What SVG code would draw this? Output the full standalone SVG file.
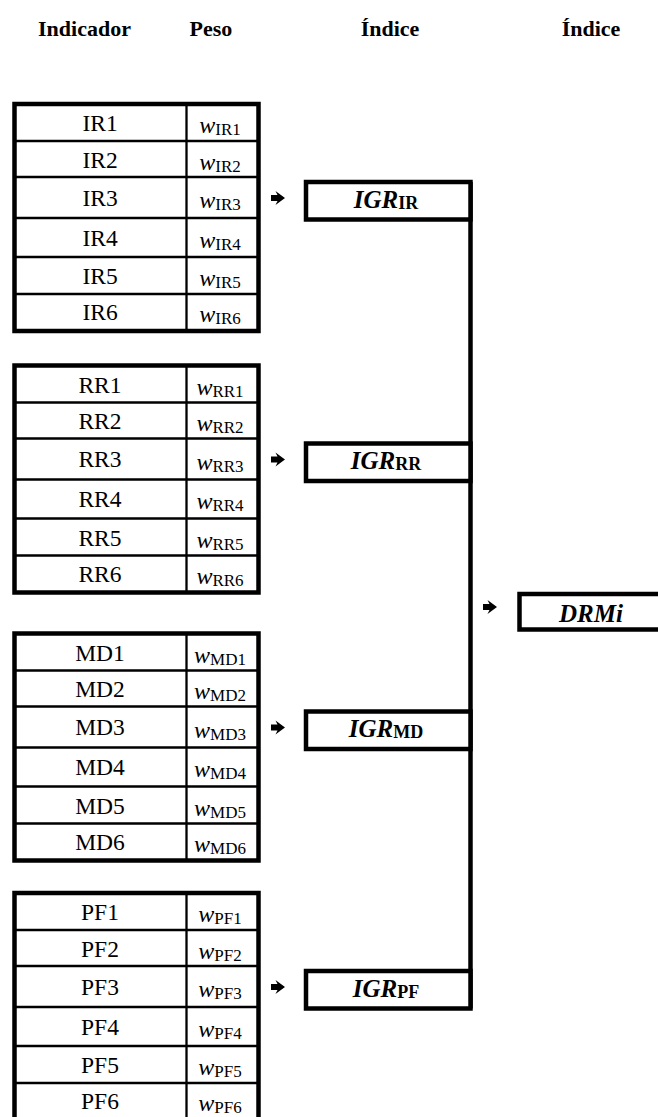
<svg xmlns="http://www.w3.org/2000/svg" width="658" height="1117" viewBox="0 0 658 1117">
<style>
.hd{font-family:"Liberation Serif",serif;font-weight:bold;font-size:22px;fill:#000;text-anchor:middle}
.nm{font-family:"Liberation Serif",serif;font-size:23.5px;fill:#000;text-anchor:middle}
.wt{font-family:"Liberation Serif",serif;font-size:24px;fill:#000;text-anchor:middle}
.it{font-style:italic}
.sub{font-size:17px;font-style:normal}
.outer{fill:#fff;stroke:#000;stroke-width:4.5}
.inner{stroke:#000;stroke-width:2.3}
.box{fill:#fff;stroke:#000;stroke-width:4.5}
.lbl{font-family:"Liberation Serif",serif;font-size:25px;font-weight:bold;font-style:italic;fill:#000;text-anchor:middle}
.lsub{font-size:18px;font-style:normal}
.conn{stroke:#000;stroke-width:4.5;fill:none}
</style>
<defs>
<path id="arr" d="M0,-3 H6.5 L4.5,-7 L14,0 L4.5,7 L6.5,3 H0 Z" fill="#000"/>
<g id="grid">
<rect class="outer" x="14.5" y="0" width="244" height="227"/>
<path class="inner" d="M14.5,37H258.5M14.5,73H258.5M14.5,114H258.5M14.5,153H258.5M14.5,190H258.5M186.5,0V227"/>
</g>
</defs>

<g id="headings">
<text class="hd" x="84.5" y="36">Indicador</text>
<text class="hd" x="211" y="36">Peso</text>
<text class="hd" x="390" y="36">Índice</text>
<text class="hd" x="591" y="36">Índice</text>
</g>

<g id="table-IR" transform="translate(0,104)">
<use href="#grid"/>
<text class="nm" x="100" y="27">IR1</text>
<text class="nm" x="100" y="63.5">IR2</text>
<text class="nm" x="100" y="101.5">IR3</text>
<text class="nm" x="100" y="141.5">IR4</text>
<text class="nm" x="100" y="180">IR5</text>
<text class="nm" x="100" y="216">IR6</text>
<text class="wt" x="220" y="29"><tspan class="it">w</tspan><tspan class="sub" dy="2">IR1</tspan></text>
<text class="wt" x="220" y="65.5"><tspan class="it">w</tspan><tspan class="sub" dy="2">IR2</tspan></text>
<text class="wt" x="220" y="104"><tspan class="it">w</tspan><tspan class="sub" dy="2">IR3</tspan></text>
<text class="wt" x="220" y="143.5"><tspan class="it">w</tspan><tspan class="sub" dy="2">IR4</tspan></text>
<text class="wt" x="220" y="182"><tspan class="it">w</tspan><tspan class="sub" dy="2">IR5</tspan></text>
<text class="wt" x="220" y="218"><tspan class="it">w</tspan><tspan class="sub" dy="2">IR6</tspan></text>
</g>

<g id="table-RR" transform="translate(0,365.5)">
<use href="#grid"/>
<text class="nm" x="100" y="27">RR1</text>
<text class="nm" x="100" y="63.5">RR2</text>
<text class="nm" x="100" y="101.5">RR3</text>
<text class="nm" x="100" y="141.5">RR4</text>
<text class="nm" x="100" y="180">RR5</text>
<text class="nm" x="100" y="216">RR6</text>
<text class="wt" x="220" y="29"><tspan class="it">w</tspan><tspan class="sub" dy="2">RR1</tspan></text>
<text class="wt" x="220" y="65.5"><tspan class="it">w</tspan><tspan class="sub" dy="2">RR2</tspan></text>
<text class="wt" x="220" y="104"><tspan class="it">w</tspan><tspan class="sub" dy="2">RR3</tspan></text>
<text class="wt" x="220" y="143.5"><tspan class="it">w</tspan><tspan class="sub" dy="2">RR4</tspan></text>
<text class="wt" x="220" y="182"><tspan class="it">w</tspan><tspan class="sub" dy="2">RR5</tspan></text>
<text class="wt" x="220" y="218"><tspan class="it">w</tspan><tspan class="sub" dy="2">RR6</tspan></text>
</g>

<g id="table-MD" transform="translate(0,633.5)">
<use href="#grid"/>
<text class="nm" x="100" y="27">MD1</text>
<text class="nm" x="100" y="63.5">MD2</text>
<text class="nm" x="100" y="101.5">MD3</text>
<text class="nm" x="100" y="141.5">MD4</text>
<text class="nm" x="100" y="180">MD5</text>
<text class="nm" x="100" y="216">MD6</text>
<text class="wt" x="220" y="29"><tspan class="it">w</tspan><tspan class="sub" dy="2">MD1</tspan></text>
<text class="wt" x="220" y="65.5"><tspan class="it">w</tspan><tspan class="sub" dy="2">MD2</tspan></text>
<text class="wt" x="220" y="104"><tspan class="it">w</tspan><tspan class="sub" dy="2">MD3</tspan></text>
<text class="wt" x="220" y="143.5"><tspan class="it">w</tspan><tspan class="sub" dy="2">MD4</tspan></text>
<text class="wt" x="220" y="182"><tspan class="it">w</tspan><tspan class="sub" dy="2">MD5</tspan></text>
<text class="wt" x="220" y="218"><tspan class="it">w</tspan><tspan class="sub" dy="2">MD6</tspan></text>
</g>

<g id="table-PF" transform="translate(0,893)">
<use href="#grid"/>
<text class="nm" x="100" y="27">PF1</text>
<text class="nm" x="100" y="63.5">PF2</text>
<text class="nm" x="100" y="101.5">PF3</text>
<text class="nm" x="100" y="141.5">PF4</text>
<text class="nm" x="100" y="180">PF5</text>
<text class="nm" x="100" y="216">PF6</text>
<text class="wt" x="220" y="29"><tspan class="it">w</tspan><tspan class="sub" dy="2">PF1</tspan></text>
<text class="wt" x="220" y="65.5"><tspan class="it">w</tspan><tspan class="sub" dy="2">PF2</tspan></text>
<text class="wt" x="220" y="104"><tspan class="it">w</tspan><tspan class="sub" dy="2">PF3</tspan></text>
<text class="wt" x="220" y="143.5"><tspan class="it">w</tspan><tspan class="sub" dy="2">PF4</tspan></text>
<text class="wt" x="220" y="182"><tspan class="it">w</tspan><tspan class="sub" dy="2">PF5</tspan></text>
<text class="wt" x="220" y="218"><tspan class="it">w</tspan><tspan class="sub" dy="2">PF6</tspan></text>
</g>

<g id="connectors">
<path class="conn" d="M470.5,182V1008.5"/>
<use href="#arr" x="271" y="198"/>
<use href="#arr" x="271" y="459.5"/>
<use href="#arr" x="271" y="727.5"/>
<use href="#arr" x="271" y="987"/>
<use href="#arr" x="483" y="607"/>
</g>

<g id="igr-IR">
<rect class="box" x="306" y="182" width="164.5" height="37.5"/>
<text class="lbl" x="386" y="207.5">IGR<tspan class="lsub" dy="1">IR</tspan></text>
</g>
<g id="igr-RR">
<rect class="box" x="306" y="443.5" width="164.5" height="37.5"/>
<text class="lbl" x="386" y="469">IGR<tspan class="lsub" dy="1">RR</tspan></text>
</g>
<g id="igr-MD">
<rect class="box" x="306" y="711.5" width="164.5" height="37.5"/>
<text class="lbl" x="386" y="737">IGR<tspan class="lsub" dy="1">MD</tspan></text>
</g>
<g id="igr-PF">
<rect class="box" x="306" y="971" width="164.5" height="37.5"/>
<text class="lbl" x="386" y="996.5">IGR<tspan class="lsub" dy="1">PF</tspan></text>
</g>

<g id="drmi">
<rect class="box" x="519.5" y="594" width="200" height="35.5"/>
<text class="lbl" x="591" y="621.5" font-size="28">DRMi</text>
</g>
</svg>
